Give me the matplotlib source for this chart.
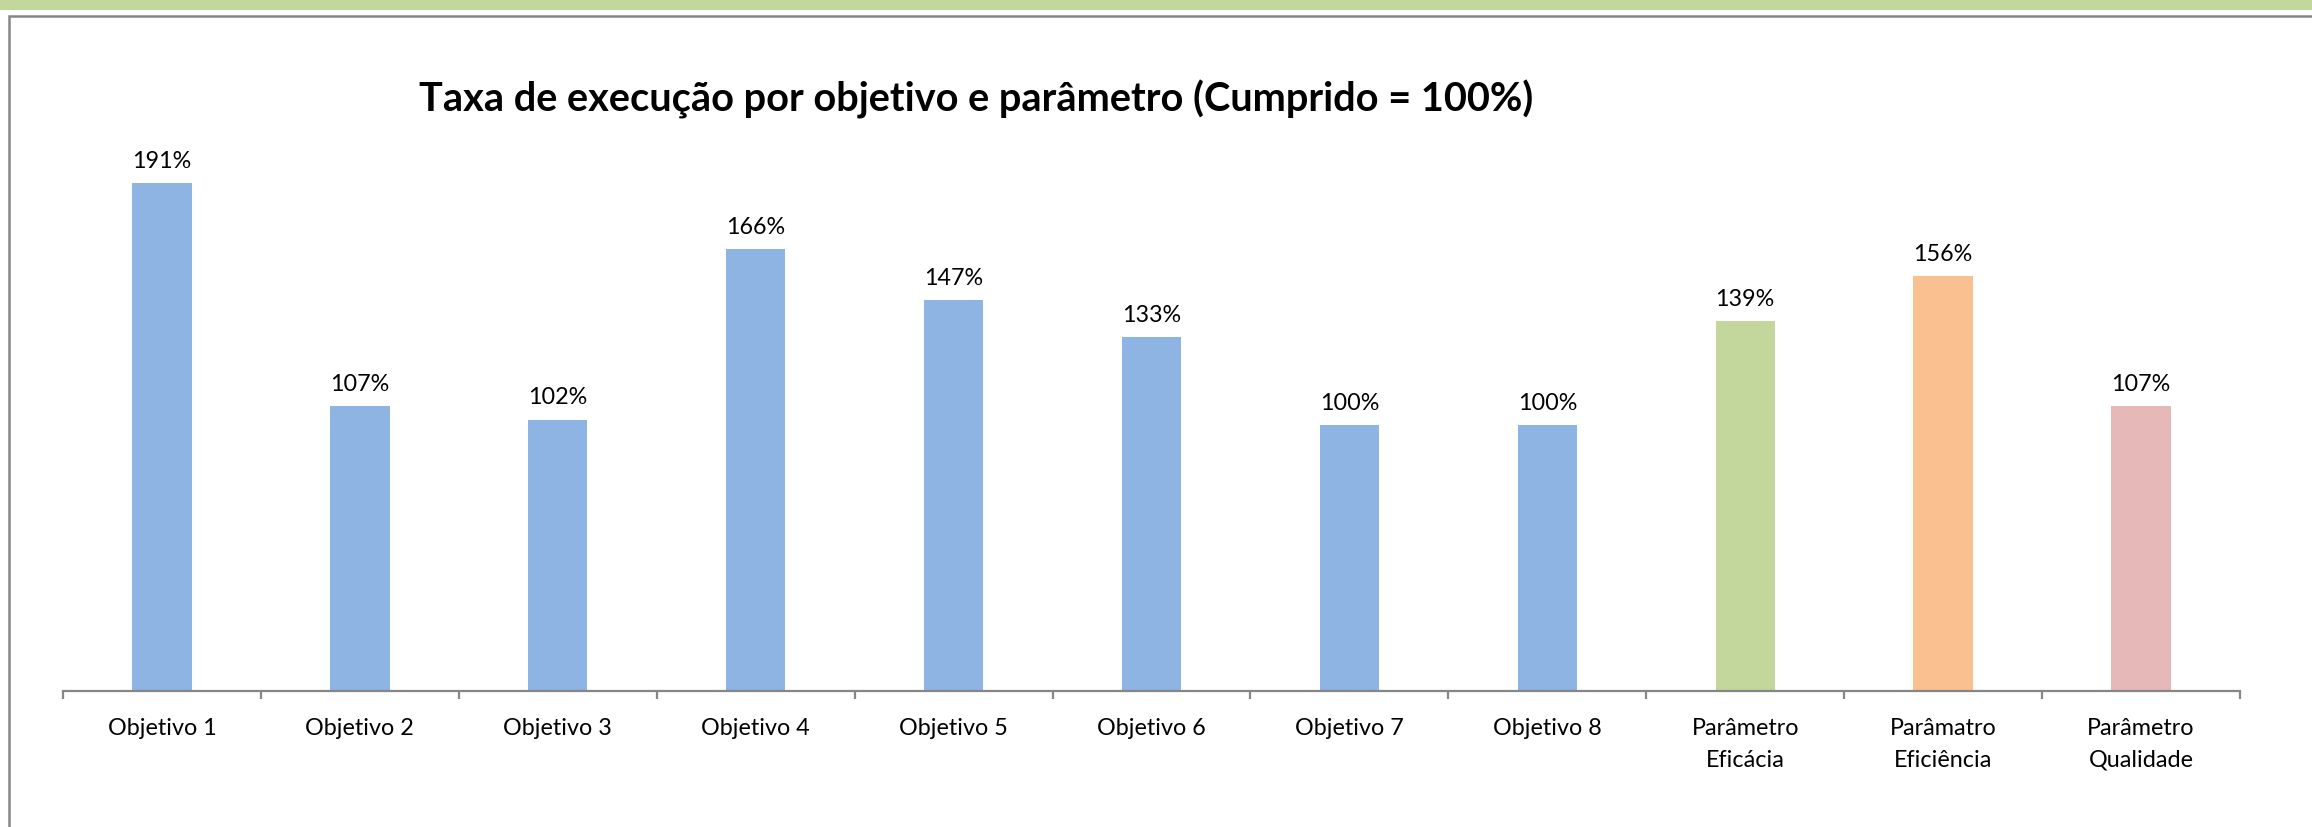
import matplotlib
matplotlib.use("Agg")
import matplotlib.pyplot as plt
from matplotlib.patches import Rectangle
from matplotlib.ticker import FixedLocator

categories = ["Objetivo 1", "Objetivo 2", "Objetivo 3", "Objetivo 4", "Objetivo 5",
              "Objetivo 6", "Objetivo 7", "Objetivo 8", "Parâmetro\nEficácia",
              "Parâmatro\nEficiência", "Parâmetro\nQualidade"]
values = [1.91, 1.07, 1.02, 1.66, 1.47, 1.33, 1.00, 1.00, 1.39, 1.56, 1.07]
labels = ["191%", "107%", "102%", "166%", "147%", "133%", "100%", "100%", "139%", "156%", "107%"]
colors = ["#8EB4E3"] * 8 + ["#C3D69B", "#FAC090", "#E6B9B8"]
title = "Taxa de execução por objetivo e parâmetro (Cumprido = 100%)"

plt.rcParams['font.family'] = ['Lato', 'DejaVu Sans']

W, H = 2312, 828
fig = plt.figure(figsize=(W / 100, H / 100), dpi=100)
fig.patch.set_facecolor("white")

# top green band
fig.add_artist(Rectangle((0, 1 - 11 / H), 1, 11 / H, transform=fig.transFigure,
                         facecolor="#C4D79B", edgecolor="none"))
# chart box border (extends beyond right/bottom)
fig.add_artist(Rectangle((9 / W, -0.1), 1.2, 1 - 17 / H + 0.1, transform=fig.transFigure,
                         facecolor="none", edgecolor="#868686", linewidth=1.8))

ax_left, ax_right = 63, 2240
ax_bottom, ax_top = 692, 160
ax = fig.add_axes([ax_left / W, 1 - ax_bottom / H, (ax_right - ax_left) / W,
                   (ax_bottom - ax_top) / H])
x = list(range(len(categories)))
ax.bar(x, values, width=0.30, color=colors, edgecolor="none")
ax.set_xlim(-0.5, len(categories) - 0.5)
ax.set_ylim(0, 2.0)

for xi, v, lab in zip(x, values, labels):
    ax.annotate(lab, (xi, v), xytext=(0, 16.5), textcoords="offset points",
                ha="center", va="center", fontsize=16.8, color="black")

for s in ["top", "right", "left"]:
    ax.spines[s].set_visible(False)
ax.spines["bottom"].set_color("#868686")
ax.spines["bottom"].set_linewidth(1.6)
ax.set_yticks([])
ax.set_xticks(x)
ax.set_xticklabels(categories, fontsize=16.8, linespacing=1.6)
ax.tick_params(axis="x", which="major", length=0, pad=19)
ax.xaxis.set_minor_locator(FixedLocator([i - 0.5 for i in range(len(categories) + 1)]))
ax.tick_params(axis="x", which="minor", length=6, width=1.6, color="#868686", direction="out")

fig.text(976 / W, 1 - 99 / H, title, ha="center", va="center",
         fontsize=28.6, fontweight="bold", color="black")

fig.savefig("out.png", dpi=100)
